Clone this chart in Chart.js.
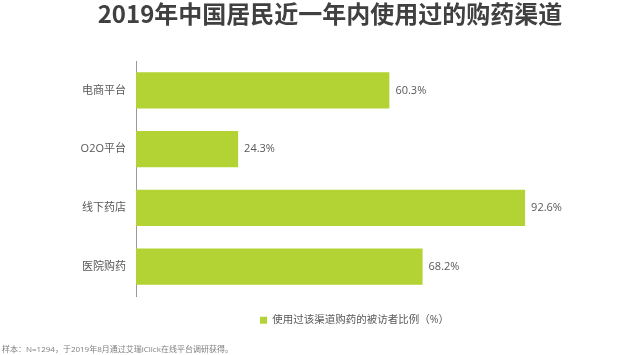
<!DOCTYPE html>
<html>
<head>
<meta charset="utf-8">
<script src="https://cdn.jsdelivr.net/npm/chart.js@4"></script>
<style>
  body { margin: 0; background: #fff; }
</style>
</head>
<body>
<canvas id="chart" width="636" height="355"></canvas>
<script>
// Data
const categories = ['电商平台', 'O2O平台', '线下药店', '医院购药'];
const shares = [60.3, 24.3, 92.6, 68.2];
const seriesName = '使用过该渠道购药的被访者比例（%）';
const chartTitle = '2019年中国居民近一年内使用过的购药渠道';
const footnote = '样本：N=1294，于2019年8月通过艾瑞iClick在线平台调研获得。';

const textFont = '"Open Sans", "Noto Sans CJK SC", sans-serif';
const barColor = '#b3d334';

// value labels at the end of each bar
const valueLabels = {
    id: 'valueLabels',
    afterDatasetsDraw(chart) {
        const ctx = chart.ctx;
        const meta = chart.getDatasetMeta(0);
        ctx.save();
        ctx.font = '11px ' + textFont;
        ctx.fillStyle = '#595959';
        ctx.textAlign = 'left';
        ctx.textBaseline = 'middle';
        meta.data.forEach((bar, i) => {
            ctx.fillText(shares[i].toFixed(1) + '%', bar.x + 6, bar.y);
        });
        ctx.restore();
    }
};

// title (a bit right of centre like the original) and source note
const extraText = {
    id: 'extraText',
    afterDraw(chart) {
        const ctx = chart.ctx;
        ctx.save();
        ctx.textBaseline = 'middle';
        ctx.textAlign = 'center';
        ctx.font = 'bold 24px "Noto Sans CJK SC", sans-serif';
        ctx.fillStyle = '#404040';
        ctx.fillText(chartTitle, 330, 14);

        ctx.textAlign = 'left';
        ctx.font = '8px ' + textFont;
        ctx.fillStyle = '#7f7f7f';
        ctx.fillText(footnote, 2, chart.height - 5.5);
        ctx.restore();
    }
};

new Chart(document.getElementById('chart'), {
    type: 'bar',
    data: {
        labels: categories,
        datasets: [{
            label: seriesName,
            data: shares,
            backgroundColor: barColor,
            barPercentage: 0.62,
            categoryPercentage: 1
        }]
    },
    options: {
        indexAxis: 'y',
        responsive: false,
        animation: false,
        layout: { padding: { left: 0, right: 63, top: 61, bottom: 19.5 } },
        scales: {
            x: { display: false, min: 0, max: 104 },
            y: {
                grid: { display: false, drawTicks: false },
                border: { color: '#999999', width: 1 },
                ticks: { color: '#595959', font: { size: 11, family: textFont }, padding: 10 },
                afterFit: s => { s.width = 136; }
            }
        },
        plugins: {
            title: { display: false },
            legend: {
                position: 'bottom',
                fullSize: false,
                labels: {
                    color: '#595959',
                    font: { size: 10.5, family: textFont },
                    boxWidth: 7,
                    boxHeight: 7,
                    padding: 19
                }
            },
            tooltip: { enabled: false }
        }
    },
    plugins: [valueLabels, extraText]
});
</script>
</body>
</html>
